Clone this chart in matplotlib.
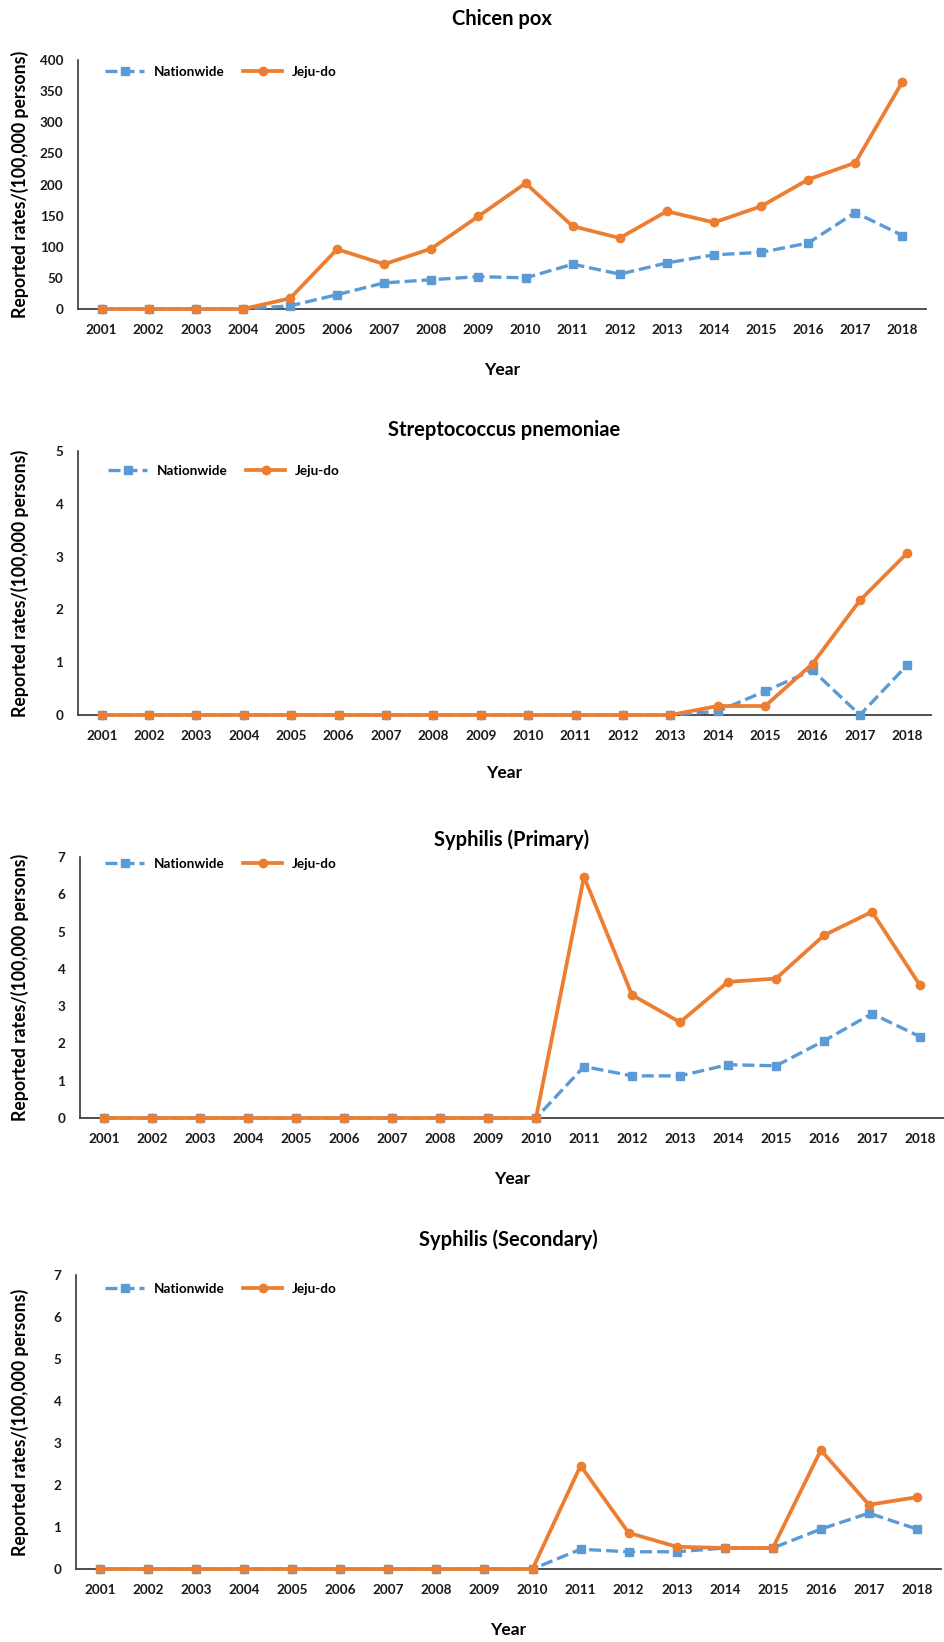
import numpy as np
import matplotlib
matplotlib.use('Agg')
import matplotlib.pyplot as plt

plt.rcParams['font.family'] = ['Lato', 'DejaVu Sans']
plt.rcParams['font.weight'] = 'bold'

years = list(range(2001, 2019))

# Chicken pox
cp_nation = [0, 0, 0, 0, 5, 23, 42, 47, 52, 50, 72, 56, 74, 87, 91, 106, 155, 118]
cp_jeju = [0, 0, 0, 0, 17, 96, 72, 97, 149, 202, 133, 114, 157, 139, 165, 208, 235, 365]

# Streptococcus pneumoniae
sp_nation = [0, 0, 0, 0, 0, 0, 0, 0, 0, 0, 0, 0, 0, 0.07, 0.45, 0.85, 0, 0.95]
sp_jeju = [0, 0, 0, 0, 0, 0, 0, 0, 0, 0, 0, 0, 0, 0.17, 0.17, 0.97, 2.17, 3.07]

# Syphilis (primary)
s1_nation = [0, 0, 0, 0, 0, 0, 0, 0, 0, 0, 1.38, 1.13, 1.13, 1.43, 1.40, 2.07, 2.80, 2.18]
s1_jeju = [0, 0, 0, 0, 0, 0, 0, 0, 0, 0, 6.47, 3.30, 2.57, 3.65, 3.74, 4.90, 5.53, 3.56]

# Syphilis (secondary)
s2_nation = [0, 0, 0, 0, 0, 0, 0, 0, 0, 0, 0.47, 0.41, 0.41, 0.50, 0.50, 0.95, 1.33, 0.95]
s2_jeju = [0, 0, 0, 0, 0, 0, 0, 0, 0, 0, 2.46, 0.86, 0.53, 0.50, 0.50, 2.83, 1.53, 1.71]

titles = ['Chicen pox', 'Streptococcus pnemoniae', 'Syphilis (Primary)', 'Syphilis (Secondary)']
nation = [cp_nation, sp_nation, s1_nation, s2_nation]
jeju = [cp_jeju, sp_jeju, s1_jeju, s2_jeju]
ymax = [400, 5, 7, 7]
ystep = [50, 1, 1, 1]

BLUE = '#5B9BD5'
ORANGE = '#ED7D31'
W, H = 944, 1642

# panel boxes in pixels: left, right, top, bottom, title y, xlabel y, legend y, legend x
boxes = [
    (78, 926, 60, 309, 19, 370, 72, 105),
    (78, 931, 451, 715, 430, 773, 471, 108),
    (80, 944, 857, 1118, 840, 1179, 864, 105),
    (76, 941, 1275, 1569, 1240, 1630, 1289, 105),
]

fig = plt.figure(figsize=(W / 100, H / 100), dpi=100)

for i in range(4):
  l, r, t, b, ty, xy, ly, lx = boxes[i]
  ax = fig.add_axes([l / W, 1 - b / H, (r - l) / W, (b - t) / H])
  ax.plot(years, nation[i], color=BLUE, lw=2.4, dashes=(3.6, 1.5),
          marker='s', ms=6, label='Nationwide', clip_on=False, zorder=3)
  ax.plot(years, jeju[i], color=ORANGE, lw=2.7, marker='o', ms=6,
          label='Jeju-do', clip_on=False, zorder=4)
  ax.set_xlim(2000.5, 2018.5)
  ax.set_ylim(0, ymax[i])
  ax.set_xticks(years)
  ax.set_xticklabels([str(y) for y in years])
  ax.set_yticks(np.arange(0, ymax[i] + ystep[i] / 2, ystep[i]))
  ax.tick_params(axis='both', length=0, labelsize=9.7, colors='#1a1a1a')
  ax.tick_params(axis='y', pad=10.5)
  ax.tick_params(axis='x', pad=10.5)
  for lab in ax.get_xticklabels() + ax.get_yticklabels():
    lab.set_fontweight('bold')
  ax.spines['top'].set_visible(False)
  ax.spines['right'].set_visible(False)
  ax.spines['left'].set_color('#262626')
  ax.spines['bottom'].set_color('#404040')
  ax.spines['left'].set_linewidth(1.1)
  ax.spines['bottom'].set_linewidth(1.3)
  ax.set_ylabel('Reported rates/(100,000 persons)', fontsize=12.7,
                fontweight='bold')
  ax.yaxis.set_label_coords((20 - l) / (r - l), 0.5)
  ax.yaxis.label.set_va('center')
  leg = ax.legend(loc='center left',
                  bbox_to_anchor=((lx - l) / (r - l), (b - ly) / (b - t)),
                  ncol=2, frameon=False, fontsize=9.7, handlelength=2.9,
                  handletextpad=0.7, columnspacing=1.4, borderpad=0,
                  borderaxespad=0)
  for txt in leg.get_texts():
    txt.set_fontweight('bold')
  fig.text(((l + r) / 2) / W, 1 - ty / H, titles[i], ha='center',
           va='center', fontsize=14.5, fontweight='bold')
  fig.text(((l + r) / 2) / W, 1 - xy / H, 'Year', ha='center',
           va='center', fontsize=12.5, fontweight='bold')

fig.savefig('out.png', dpi=100)
